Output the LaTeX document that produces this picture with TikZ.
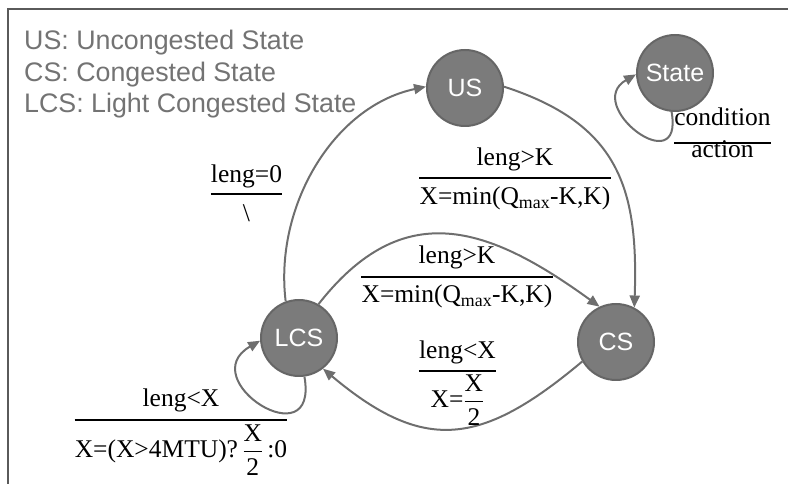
\documentclass[tikz,border=0pt]{standalone}
\usepackage{amsmath}
\usepackage{fontspec}
\setmainfont{Liberation Serif}
\newfontfamily\sansfont{Liberation Sans}
\usetikzlibrary{arrows.meta,calc}

\definecolor{statefill}{HTML}{7B7B7B}
\definecolor{stateedge}{HTML}{666666}
\definecolor{edgegray}{HTML}{6E6E6E}
\definecolor{legendgray}{HTML}{737373}
\definecolor{framegray}{HTML}{5A5A5A}

% condition/action label: numerator, bar, denominator
\newcommand\fraclabel[7]{%
  \node[lbl, anchor=base] (#1-num) at (#2,#3+#4) {#6};
  \node[lbl, anchor=base] (#1-den) at (#2,#3-#5) {#7};
  \draw[bar] let \p1=(#1-num.west), \p2=(#1-den.west),
                 \p3=(#1-num.east), \p4=(#1-den.east) in
    ({min(\x1,\x2)},#3) -- ({max(\x3,\x4)},#3);
}
\newcommand\half{$\dfrac{\text{X}}{\text{2}}$}

\begin{document}
\begin{tikzpicture}[x=1pt,y=1pt,
  state/.style={circle, fill=statefill, draw=stateedge, line width=2pt,
    minimum size=76pt, inner sep=0pt, text=white,
    font=\sansfont\fontsize{25}{30}\selectfont},
  trans/.style={draw=edgegray, line width=2pt,
    -{Triangle[length=12pt,width=10pt]}},
  lbl/.style={inner sep=0pt, font=\fontsize{25.5}{30}\selectfont},
  bar/.style={line width=1.8pt},
  legend/.style={inner sep=0pt, text=legendgray, anchor=base west,
    font=\sansfont\fontsize{26.8}{32}\selectfont}]

\useasboundingbox (0,0) rectangle (788,484);

% frame (top and left edges)
\draw[framegray, line width=1.5pt] (8,0) -- (8,475) -- (788,475);

% legend
\node[legend] (leg-us)  at (24,434) {US: Uncongested State};
\node[legend] (leg-cs)  at (24,402) {CS: Congested State};
\node[legend] (leg-lcs) at (24,371) {LCS: Light Congested State};

% states
\node[state] (US)    at (465,396) {US};
\node[state] (State) at (675,411) {State};
\node[state] (LCS)   at (299,146) {LCS};
\node[state] (CS)    at (616,142) {CS};

% transitions
\draw[trans] (US.2) to[out=-18,in=88,looseness=1.2] (CS.62);
\draw[trans] (LCS.110) to[out=97,in=192,looseness=0.95] (US.178);
\draw[trans] (LCS.60) to[out=52,in=144,looseness=1.25] (CS.115);
\draw[trans] (CS.-150) to[out=-140,in=-40,looseness=1.3] (LCS.-52);
\draw[trans] (LCS.-82) .. controls +(-80:85) and +(210:78) .. (LCS.184);
\draw[trans] (State.-95) .. controls +(-80:72) and +(210:62) .. (State.182);

% transition labels
\fraclabel{usc}{515}{306}{12}{27}{leng>K}{X=min(Q\textsubscript{max}-K,K)}
\fraclabel{lcsc}{457}{207}{13}{26}{leng>K}{X=min(Q\textsubscript{max}-K,K)}
\fraclabel{csl}{457.5}{113}{12}{37}{leng<X}{X=\half}
\fraclabel{lcsu}{246.5}{290}{11}{28}{leng=0}{\textbackslash}
\fraclabel{lcsl}{181}{64}{13}{38}{leng<X}{X=(X>4MTU)?\,\half\,:0}
\fraclabel{key}{722.5}{341}{17}{15}{condition}{action}

\end{tikzpicture}
\end{document}
